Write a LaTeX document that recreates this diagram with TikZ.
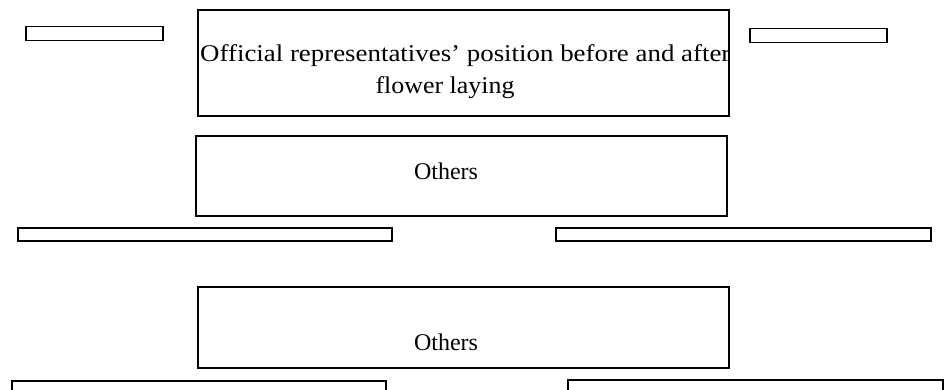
\documentclass[tikz,border=0pt]{standalone}
\usepackage{fontspec}
\setmainfont{Liberation Serif}
\begin{document}
\begin{tikzpicture}[x=1pt,y=-1pt,
  bigbox/.style={draw=black,line width=2.6pt,fill=white,inner sep=0pt,rectangle},
  thinbox/.style={draw=black,line width=1.6pt,fill=white,inner sep=0pt,rectangle},
  lbl/.style={inner sep=0pt,font=\fontsize{24}{28}\selectfont}]
\useasboundingbox (0,0) rectangle (948,389);
% top small boxes
\node[thinbox,minimum width=137pt,minimum height=14pt] (sl) at (94.5,33.5) {};
\node[thinbox,minimum width=137pt,minimum height=14pt] (sr) at (818.5,35.5) {};
% main top box
\node[bigbox,minimum width=531pt,minimum height=106pt] (main) at (463.5,63) {};
\begin{scope}
  \clip (main.north west) rectangle (main.south east);
  \node[lbl,anchor=base west] (t1) at (200,61) {\scalebox{1.12}[1]{Official representatives’ position before and after}};
  \node[lbl,anchor=base] (t2) at (445,93) {\scalebox{1.08}[1]{flower laying}};
\end{scope}
% middle box
\node[bigbox,minimum width=531pt,minimum height=80pt] (mid) at (461.5,176) {};
\node[lbl,anchor=base] (o1) at (446,179) {Others};
% long thin boxes
\node[bigbox,minimum width=374pt,minimum height=13pt] (ll) at (205,234.5) {};
\node[bigbox,minimum width=375pt,minimum height=13pt] (lr) at (743.5,234.5) {};
% bottom others box
\node[bigbox,minimum width=531pt,minimum height=81pt] (bot) at (463.5,327.5) {};
\node[lbl,anchor=base] (o2) at (446,350) {Others};
% bottom boxes (cut by page edge)
\node[bigbox,minimum width=374pt,minimum height=40pt] (bl) at (199,401) {};
\node[bigbox,minimum width=375pt,minimum height=40pt] (br) at (755.5,400) {};
\end{tikzpicture}
\end{document}
